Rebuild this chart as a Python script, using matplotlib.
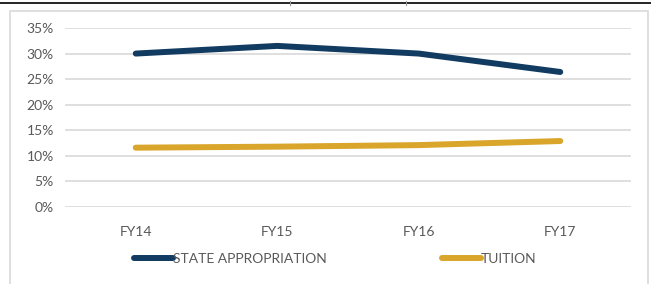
import matplotlib.pyplot as plt
from matplotlib.patches import Rectangle
from matplotlib.lines import Line2D

years = ['FY14', 'FY15', 'FY16', 'FY17']
state_approp = [30.0, 31.5, 30.0, 26.4]
tuition = [11.6, 11.8, 12.1, 12.9]
yticks = [0, 5, 10, 15, 20, 25, 30, 35]

navy = '#123B61'
gold = '#D9A52B'
grey = '#595959'

plt.rcParams['font.family'] = ['Lato', 'DejaVu Sans']

fig = plt.figure(figsize=(6.51, 2.84), dpi=100)
W, H = 651, 284

# outer chart frame and the table rule above it
fig.patches.append(Rectangle((10 / W, -0.1), 638 / W, 1.1 - 11 / H, transform=fig.transFigure,
                             fill=False, edgecolor='#D9D9D9', linewidth=1.2))
fig.lines.append(Line2D([0, 1], [1 - 2.5 / H, 1 - 2.5 / H], transform=fig.transFigure,
                        color='black', linewidth=1.2))
for xx in [290, 406]:
    fig.lines.append(Line2D([xx / W, xx / W], [1 - 5 / H, 1 - 1 / H], transform=fig.transFigure,
                            color='#999999', linewidth=0.8))

ax = fig.add_axes([65 / W, 1 - 207 / H, 566 / W, 179 / H])
ax.plot(range(len(years)), state_approp, color=navy, linewidth=4.3, solid_capstyle='round',
        label='STATE APPROPRIATION')
ax.plot(range(len(years)), tuition, color=gold, linewidth=4.3, solid_capstyle='round',
        label='TUITION')

ax.set_xlim(-0.5, 3.5)
ax.set_ylim(0, 35)
ax.set_yticks(yticks)
ax.set_yticklabels([f'{v}%' for v in yticks])
ax.set_xticks(range(len(years)))
ax.set_xticklabels(years)
ax.grid(axis='y', color='#D9D9D9', linewidth=1.2)
ax.set_axisbelow(True)
for s in ax.spines.values():
    s.set_visible(False)
ax.tick_params(length=0, labelsize=10, colors=grey, pad=8)
ax.tick_params(axis='x', pad=14)

leg = fig.legend(loc='center', bbox_to_anchor=(0.5 + 10 / W, 1 - 259 / H), ncol=2, frameon=False,
                 fontsize=10, handlelength=2.8, handletextpad=0.0, columnspacing=8.3)
for t in leg.get_texts():
    t.set_color(grey)

fig.savefig('out.png', dpi=100)
